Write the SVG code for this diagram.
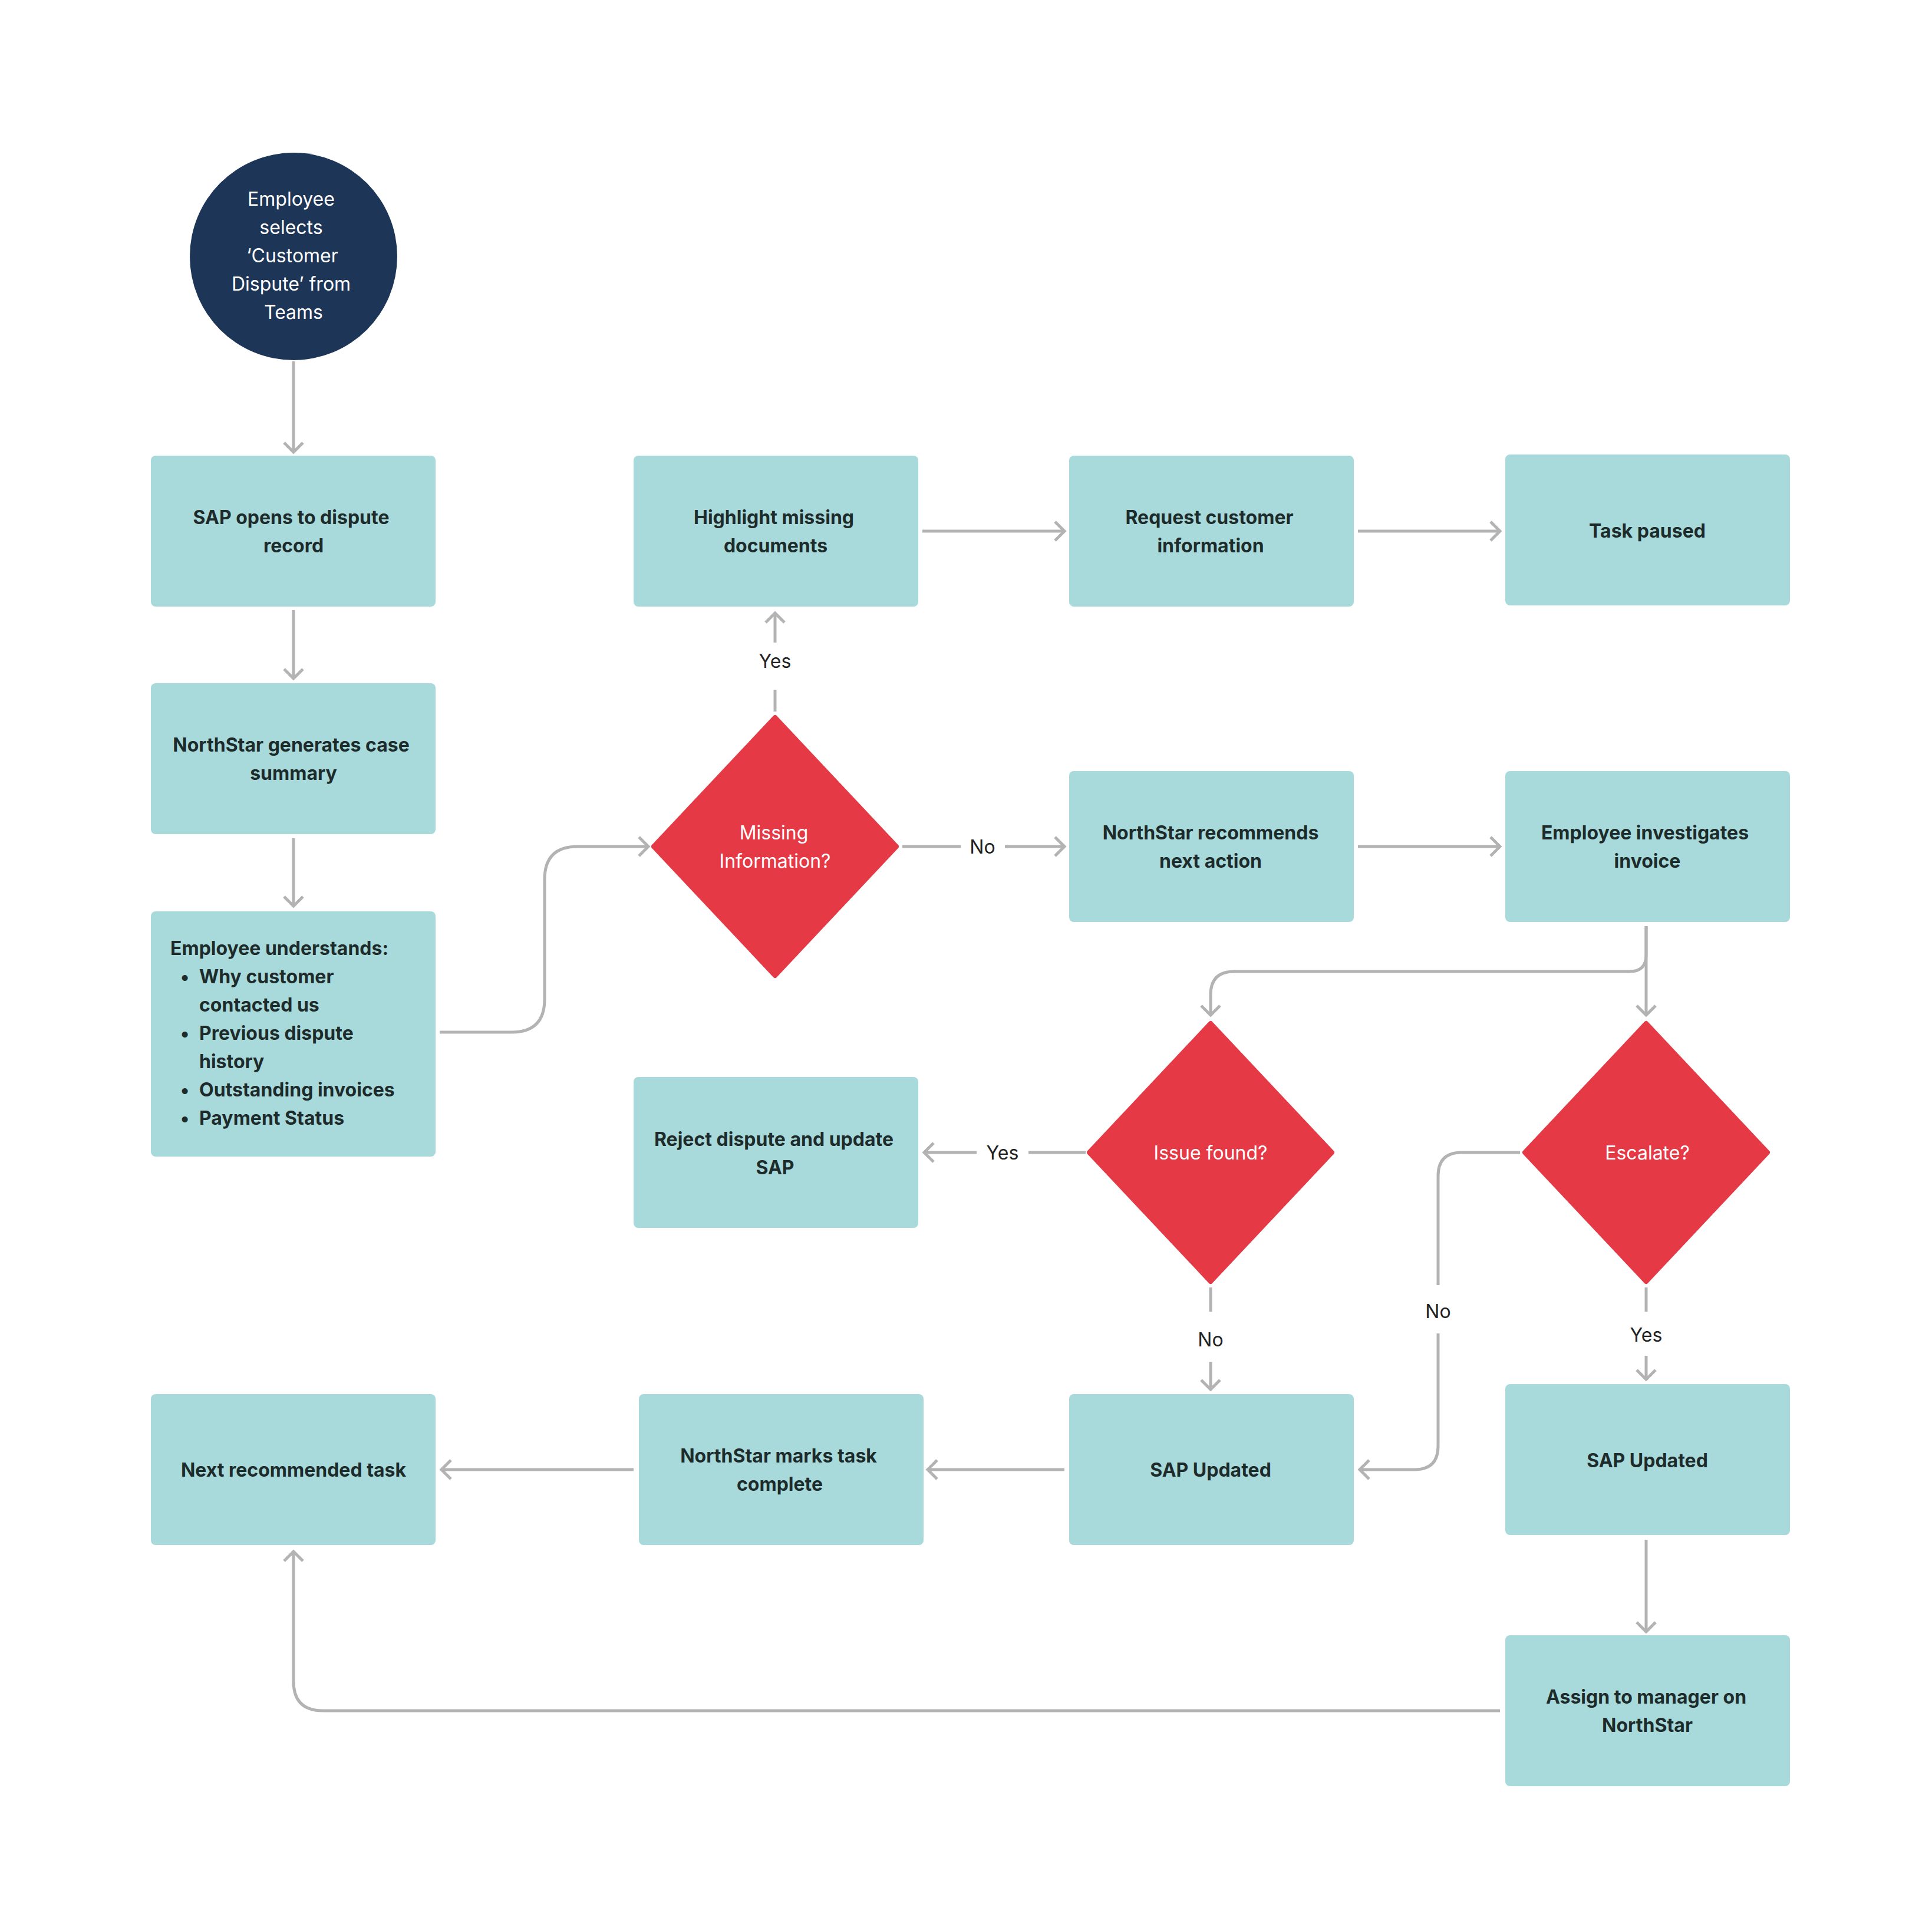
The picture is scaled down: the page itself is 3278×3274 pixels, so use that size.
<svg xmlns="http://www.w3.org/2000/svg" width="3278" height="3274" viewBox="0 0 3278 3274">
<style>
.b{fill:#a8dadc}
.d{fill:#e63946;stroke:#e63946;stroke-width:8;stroke-linejoin:round}
.t{font-family:Inter,"Liberation Sans",sans-serif;font-size:32px;font-weight:700;fill:#1e2b2b;text-anchor:middle}
.w{font-family:Inter,"Liberation Sans",sans-serif;font-size:32px;fill:#fff;text-anchor:middle}
.l{font-family:Inter,"Liberation Sans",sans-serif;font-size:32px;fill:#222;text-anchor:middle}
.c{fill:none;stroke:#b3b3b3;stroke-width:5}
</style>
<defs>
<marker id="a" markerUnits="userSpaceOnUse" markerWidth="40" markerHeight="40" refX="20" refY="20" orient="auto">
<path d="M4 4 L20 20 L4 36" fill="none" stroke="#b3b3b3" stroke-width="5"/>
</marker>
</defs>
<rect width="3278" height="3274" fill="#fff"/>
<g id="connectors">
<path class="c" d="M498 613V767" marker-end="url(#a)"/>
<path class="c" d="M498 1035V1151" marker-end="url(#a)"/>
<path class="c" d="M498 1422V1537" marker-end="url(#a)"/>
<path class="c" d="M746 1751H868Q924 1751 924 1695V1492Q924 1436 980 1436H1100" marker-end="url(#a)"/>
<path class="c" d="M1315 1207V1170"/>
<path class="c" d="M1315 1090V1040" marker-end="url(#a)"/>
<path class="c" d="M1565 901H1806" marker-end="url(#a)"/>
<path class="c" d="M2304 901H2545" marker-end="url(#a)"/>
<path class="c" d="M1531 1436H1630"/>
<path class="c" d="M1705 1436H1806" marker-end="url(#a)"/>
<path class="c" d="M2304 1436H2545" marker-end="url(#a)"/>
<path class="c" d="M2793 1571V1722" marker-end="url(#a)"/>
<path class="c" d="M2793 1571V1620Q2793 1648 2765 1648H2094Q2054 1648 2054 1688V1722" marker-end="url(#a)"/>
<path class="c" d="M1842 1955H1745"/>
<path class="c" d="M1657 1955H1568" marker-end="url(#a)"/>
<path class="c" d="M2054 2184V2225"/>
<path class="c" d="M2054 2310V2357" marker-end="url(#a)"/>
<path class="c" d="M2579 1955H2480Q2440 1955 2440 1995V2180"/>
<path class="c" d="M2440 2262V2453Q2440 2493 2400 2493H2307" marker-end="url(#a)"/>
<path class="c" d="M2793 2184V2225"/>
<path class="c" d="M2793 2300V2340" marker-end="url(#a)"/>
<path class="c" d="M1806 2493H1574" marker-end="url(#a)"/>
<path class="c" d="M1075 2493H749" marker-end="url(#a)"/>
<path class="c" d="M2793 2612V2768" marker-end="url(#a)"/>
<path class="c" d="M2545 2902H548Q498 2902 498 2852V2632" marker-end="url(#a)"/>
</g>
<g id="labels">
<text class="l" x="1315" y="1133">Yes</text>
<text class="l" x="1667" y="1448">No</text>
<text class="l" x="1701" y="1967">Yes</text>
<text class="l" x="2054" y="2284">No</text>
<text class="l" x="2440" y="2236">No</text>
<text class="l" x="2793" y="2276">Yes</text>
</g>
<g id="start"><circle cx="498" cy="435" r="176" fill="#1d3557"/>
<text class="w"><tspan x="494" y="349">Employee</tspan><tspan x="494" y="397">selects</tspan><tspan x="496" y="445">‘Customer</tspan><tspan x="494" y="493">Dispute’ from</tspan><tspan x="498" y="541">Teams</tspan></text></g>
<g id="sap_open"><rect class="b" x="256" y="773" width="483" height="256" rx="8"/><text class="t"><tspan x="494" y="889">SAP opens to dispute</tspan><tspan x="498" y="937">record</tspan></text></g>
<g id="summary"><rect class="b" x="256" y="1159" width="483" height="256" rx="8"/><text class="t"><tspan x="494" y="1275">NorthStar generates case</tspan><tspan x="498" y="1323">summary</tspan></text></g>
<g id="understands"><rect class="b" x="256" y="1546" width="483" height="416" rx="8"/>
<text class="t" style="text-anchor:start"><tspan x="289" y="1620">Employee understands:</tspan><tspan x="306" y="1668">•</tspan><tspan x="338" y="1668">Why customer</tspan><tspan x="338" y="1716">contacted us</tspan><tspan x="306" y="1764">•</tspan><tspan x="338" y="1764">Previous dispute</tspan><tspan x="338" y="1812">history</tspan><tspan x="306" y="1860">•</tspan><tspan x="338" y="1860">Outstanding invoices</tspan><tspan x="306" y="1908">•</tspan><tspan x="338" y="1908">Payment Status</tspan></text></g>
<g id="highlight"><rect class="b" x="1075" y="773" width="483" height="256" rx="8"/><text class="t"><tspan x="1313" y="889">Highlight missing</tspan><tspan x="1316" y="937">documents</tspan></text></g>
<g id="request"><rect class="b" x="1814" y="773" width="483" height="256" rx="8"/><text class="t"><tspan x="2052" y="889">Request customer</tspan><tspan x="2054" y="937">information</tspan></text></g>
<g id="paused"><rect class="b" x="2554" y="771" width="483" height="256" rx="8"/><text class="t" x="2795" y="912">Task paused</text></g>
<g id="missing"><polygon class="d" points="1315,1217 1521,1436 1315,1655 1109,1436"/><text class="w"><tspan x="1313" y="1424">Missing</tspan><tspan x="1315" y="1472">Information?</tspan></text></g>
<g id="recommends"><rect class="b" x="1814" y="1308" width="483" height="256" rx="8"/><text class="t"><tspan x="2054" y="1424">NorthStar recommends</tspan><tspan x="2054" y="1472">next action</tspan></text></g>
<g id="investigates"><rect class="b" x="2554" y="1308" width="483" height="256" rx="8"/><text class="t"><tspan x="2791" y="1424">Employee investigates</tspan><tspan x="2795" y="1472">invoice</tspan></text></g>
<g id="reject"><rect class="b" x="1075" y="1827" width="483" height="256" rx="8"/><text class="t"><tspan x="1313" y="1944">Reject dispute and update</tspan><tspan x="1315" y="1992">SAP</tspan></text></g>
<g id="issue"><polygon class="d" points="2054,1736 2260,1955 2054,2174 1848,1955"/><text class="w" x="2054" y="1967">Issue found?</text></g>
<g id="escalate"><polygon class="d" points="2793,1736 2999,1955 2793,2174 2587,1955"/><text class="w" x="2795" y="1967">Escalate?</text></g>
<g id="next"><rect class="b" x="256" y="2365" width="483" height="256" rx="8"/><text class="t" x="498" y="2505">Next recommended task</text></g>
<g id="marks"><rect class="b" x="1084" y="2365" width="483" height="256" rx="8"/><text class="t"><tspan x="1321" y="2481">NorthStar marks task</tspan><tspan x="1323" y="2529">complete</tspan></text></g>
<g id="sap_mid"><rect class="b" x="1814" y="2365" width="483" height="256" rx="8"/><text class="t" x="2054" y="2505">SAP Updated</text></g>
<g id="sap_right"><rect class="b" x="2554" y="2348" width="483" height="256" rx="8"/><text class="t" x="2795" y="2489">SAP Updated</text></g>
<g id="assign"><rect class="b" x="2554" y="2774" width="483" height="256" rx="8"/><text class="t"><tspan x="2793" y="2890">Assign to manager on</tspan><tspan x="2795" y="2938">NorthStar</tspan></text></g>
</svg>
